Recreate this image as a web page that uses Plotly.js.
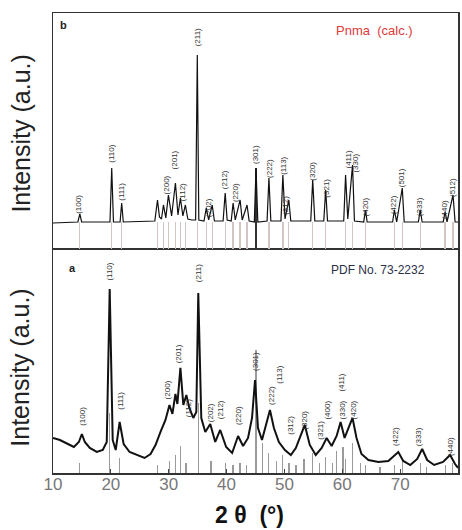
<!DOCTYPE html>
<html>
<head>
<meta charset="utf-8">
<script src="https://cdn.plot.ly/plotly-3.0.1.min.js"></script>
<style>html,body{margin:0;padding:0;background:#fff;}#chart{width:462px;height:530px;}</style>
</head>
<body>
<div id="chart"></div>
<script>
// ---- sample a (bottom panel): measured pattern, 2θ (deg) and intensity (a.u.)
const aTheta = [10.0,11.2,12.58,13.61,14.47,14.99,15.5,16.36,17.57,18.6,19.29,19.8,20.32,20.84,21.52,22.21,23.24,24.62,25.82,26.86,27.72,28.58,29.44,30.13,30.64,31.16,31.5,32.02,32.53,33.05,33.56,34.25,34.77,35.11,35.63,36.32,37.18,38.04,38.9,39.93,40.96,41.99,42.85,43.71,44.4,44.92,45.43,46.12,46.81,47.5,48.18,49.04,50.08,51.11,51.97,52.83,53.52,54.38,55.41,56.44,57.3,58.16,59.02,59.71,60.4,61.08,61.77,62.46,63.32,64.52,66.24,67.96,69.0,69.68,70.54,71.75,72.95,73.81,74.67,75.88,77.42,78.63,79.49,80.0];
const aInt   = [35,33,29,26,31,39,31,25,21,23,31,184,33,23,51,29,21,18,15,19,28,41,53,68,59,79,69,105,68,78,65,55,61,180,55,41,49,31,43,26,20,37,27,35,55,93,45,33,49,63,45,31,23,18,25,37,48,28,18,25,35,27,37,51,35,45,55,35,19,13,11,12,17,21,12,8,14,24,13,8,11,18,9,5];

// reference card sticks (bottom panel)
const refTheta = [14.6,19.8,21.5,28.1,30.1,31.2,32.0,33.0,35.1,37.3,39.8,41.1,42.3,43.5,45.1,46.2,47.3,48.6,49.7,50.8,52.0,53.4,54.9,56.1,57.1,58.3,59.0,60.1,60.6,61.8,63.2,64.0,66.5,69.0,70.4,73.5,74.6,77.8,79.1];
const refInt   = [10,60,15,8,12,18,27,10,70,12,10,8,10,8,123,30,20,12,18,10,8,14,20,10,16,10,22,26,14,30,10,8,6,8,12,10,6,8,10];

// ---- sample b (top panel)
const bTheta = [10.0,14.3,14.64,14.95,19.85,20.15,20.45,21.6,21.87,22.15,27.6,28.06,28.4,28.75,29.09,29.5,29.95,30.5,31.16,31.6,32.02,32.45,32.88,33.3,34.0,34.65,34.94,35.2,36.1,36.49,36.9,37.52,37.9,39.4,39.76,40.1,40.8,41.13,41.5,42.34,42.7,43.54,43.9,44.8,45.09,45.4,47.0,47.32,47.65,49.4,49.73,50.1,50.76,51.1,54.55,54.89,55.25,56.8,57.13,57.45,60.25,60.57,60.95,61.77,62.1,63.7,64.0,64.3,68.7,69.0,69.4,70.37,70.7,73.15,73.47,73.8,77.45,77.77,78.1,79.14,79.5,80.0];
const bInt   = [26,27,35,27,27,81,27,27,46,27,28,49,32,30,44,31,54,33,66,34,51,33,44,30,29,29,194,29,28,41,29,44,28,28,56,29,28,46,29,49,29,44,28,27,81,27,28,71,28,28,74,30,49,28,28,69,28,28,59,28,28,74,30,84,28,27,39,27,27,39,27,61,27,27,39,27,27,37,27,54,27,27];

// sticks drawn under the baseline of panel b
const bStickTheta = [14.64,20.15,21.87,28.06,29.09,29.95,31.16,32.02,32.88,34.94,36.49,37.52,39.76,41.13,42.34,43.54,47.32,49.73,50.76,54.89,57.13,60.57,61.77,64.0,69.0,70.37,73.47,77.77,79.14];
const bStickInt = [27,27,27,27,27,27,27,27,27,27,27,27,27,27,27,27,27,27,27,27,27,27,27,27,27,27,27,27,27];
const bDarkTheta = [45.09];
const bDarkInt = [81];

// Miller index labels
const aLabTheta = [15.16,19.8,21.7,29.95,31.84,33.56,35.28,37.35,39.07,42.16,45.09,47.84,49.2,51.1,53.5,56.27,57.47,59.88,60.2,62.1,69.3,73.3,78.8];
const aLabY     = [57,201,72,83,119,65,200,60,63,57,111,78,98,48,53,43,63,90,63,63,36,36,26];
const aLabText  = ["(100)","(110)","(111)","(200)","(201)","(112)","(211)","(202)","(212)","(220)","(301)","(222)","(113)","(312)","(320)","(321)","(400)","(411)","(330)","(420)","(422)","(333)","(440)"];

const bLabTheta = [14.47,20.15,21.87,29.78,31.16,32.53,34.94,37.0,39.76,41.65,45.09,47.5,49.9,50.25,54.89,57.3,61.08,62.3,64.18,69.0,70.37,73.47,77.77,79.14];
const bLabY     = [45,95,57,64,89,57,212,41,69,56,94,81,83,44,78,61,89,86,42,44,71,42,39,61];
const bLabText  = ["(100)","(110)","(111)","(200)","(201)","(112)","(211)","(202)","(212)","(220)","(301)","(222)","(113)","(312)","(320)","(321)","(411)","(330)","(420)","(422)","(501)","(333)","(440)","(512)"];

const xTicks = [10,20,30,40,50,60,70,80];

const FONT = "Liberation Sans, Arial, sans-serif";

const traces = [
  {type:'bar', x:refTheta, y:refInt, width:0.22, marker:{color:'#9a9a9a', line:{width:0}}, xaxis:'x', yaxis:'y', hoverinfo:'skip'},
  {type:'scatter', mode:'lines', x:aTheta, y:aInt, line:{color:'#111', width:2}, xaxis:'x', yaxis:'y', hoverinfo:'skip'},
  {type:'bar', x:bStickTheta, y:bStickInt, width:0.22, marker:{color:'#d4c4c4', line:{width:0}}, xaxis:'x2', yaxis:'y2', hoverinfo:'skip'},
  {type:'bar', x:bDarkTheta, y:bDarkInt, width:0.25, marker:{color:'#333', line:{width:0}}, xaxis:'x2', yaxis:'y2', hoverinfo:'skip'},
  {type:'scatter', mode:'lines', x:bTheta, y:bInt, line:{color:'#111', width:1.2}, xaxis:'x2', yaxis:'y2', hoverinfo:'skip'}
];

const annotations = [];
aLabTheta.forEach((t,i)=>annotations.push({xref:'x', yref:'y', x:t, y:aLabY[i], text:aLabText[i], textangle:-90, showarrow:false, xanchor:'center', yanchor:'middle', font:{family:FONT, size:8, color:'#333'}}));
bLabTheta.forEach((t,i)=>annotations.push({xref:'x2', yref:'y2', x:t, y:bLabY[i], text:bLabText[i], textangle:-90, showarrow:false, xanchor:'center', yanchor:'middle', font:{family:FONT, size:8, color:'#333'}}));

annotations.push(
  {xref:'paper', yref:'paper', x:-0.08, y:0.737, text:'Intensity (a.u.)', textangle:-90, showarrow:false, xanchor:'center', yanchor:'middle', font:{family:FONT, size:25, color:'#222'}},
  {xref:'paper', yref:'paper', x:-0.08, y:0.228, text:'Intensity (a.u.)', textangle:-90, showarrow:false, xanchor:'center', yanchor:'middle', font:{family:FONT, size:25, color:'#222'}},
  {xref:'paper', yref:'paper', x:0.486, y:-0.091, text:'<b>2 θ  (°)</b>', showarrow:false, xanchor:'center', yanchor:'middle', font:{family:FONT, size:23, color:'#111'}},
  {xref:'paper', yref:'paper', x:0.025, y:0.974, text:'<b>b</b>', showarrow:false, xanchor:'center', yanchor:'middle', font:{family:FONT, size:11, color:'#222'}},
  {xref:'paper', yref:'paper', x:0.049, y:0.446, text:'<b>a</b>', showarrow:false, xanchor:'center', yanchor:'middle', font:{family:FONT, size:11, color:'#222'}},
  {xref:'paper', yref:'paper', x:0.795, y:0.961, text:'Pnma  (calc.)', showarrow:false, xanchor:'center', yanchor:'middle', font:{family:FONT, size:13, color:'#e03a3a'}},
  {xref:'paper', yref:'paper', x:0.802, y:0.441, text:'PDF No. 73-2232', showarrow:false, xanchor:'center', yanchor:'middle', font:{family:FONT, size:12, color:'#2a2f4a'}}
);

const axCommon = {showline:true, mirror:true, linecolor:'#333', linewidth:1.5, showgrid:false, zeroline:false};

const layout = {
  width:462, height:530,
  margin:{l:53, r:4, t:13, b:57},
  paper_bgcolor:'#fff', plot_bgcolor:'#fff',
  showlegend:false, barmode:'overlay', bargap:0,
  font:{family:FONT},
  xaxis:Object.assign({}, axCommon, {domain:[0,1], range:[10,80], anchor:'y', tickmode:'array', tickvals:xTicks, ticktext:xTicks.map(String), ticks:'inside', ticklen:4, tickcolor:'#444', ticklabelstandoff:-5, tickfont:{family:FONT, size:17, color:'#777'}}),
  yaxis:Object.assign({}, axCommon, {domain:[0,0.485], range:[0,223], anchor:'x', showticklabels:false, ticks:''}),
  xaxis2:Object.assign({}, axCommon, {domain:[0,1], range:[10,80], anchor:'y2', matches:'x', showticklabels:false, ticks:''}),
  yaxis2:Object.assign({}, axCommon, {domain:[0.487,1], range:[0,236], anchor:'x2', showticklabels:false, ticks:''}),
  annotations:annotations
};

Plotly.newPlot('chart', traces, layout, {staticPlot:true, displayModeBar:false});
</script>
</body>
</html>
